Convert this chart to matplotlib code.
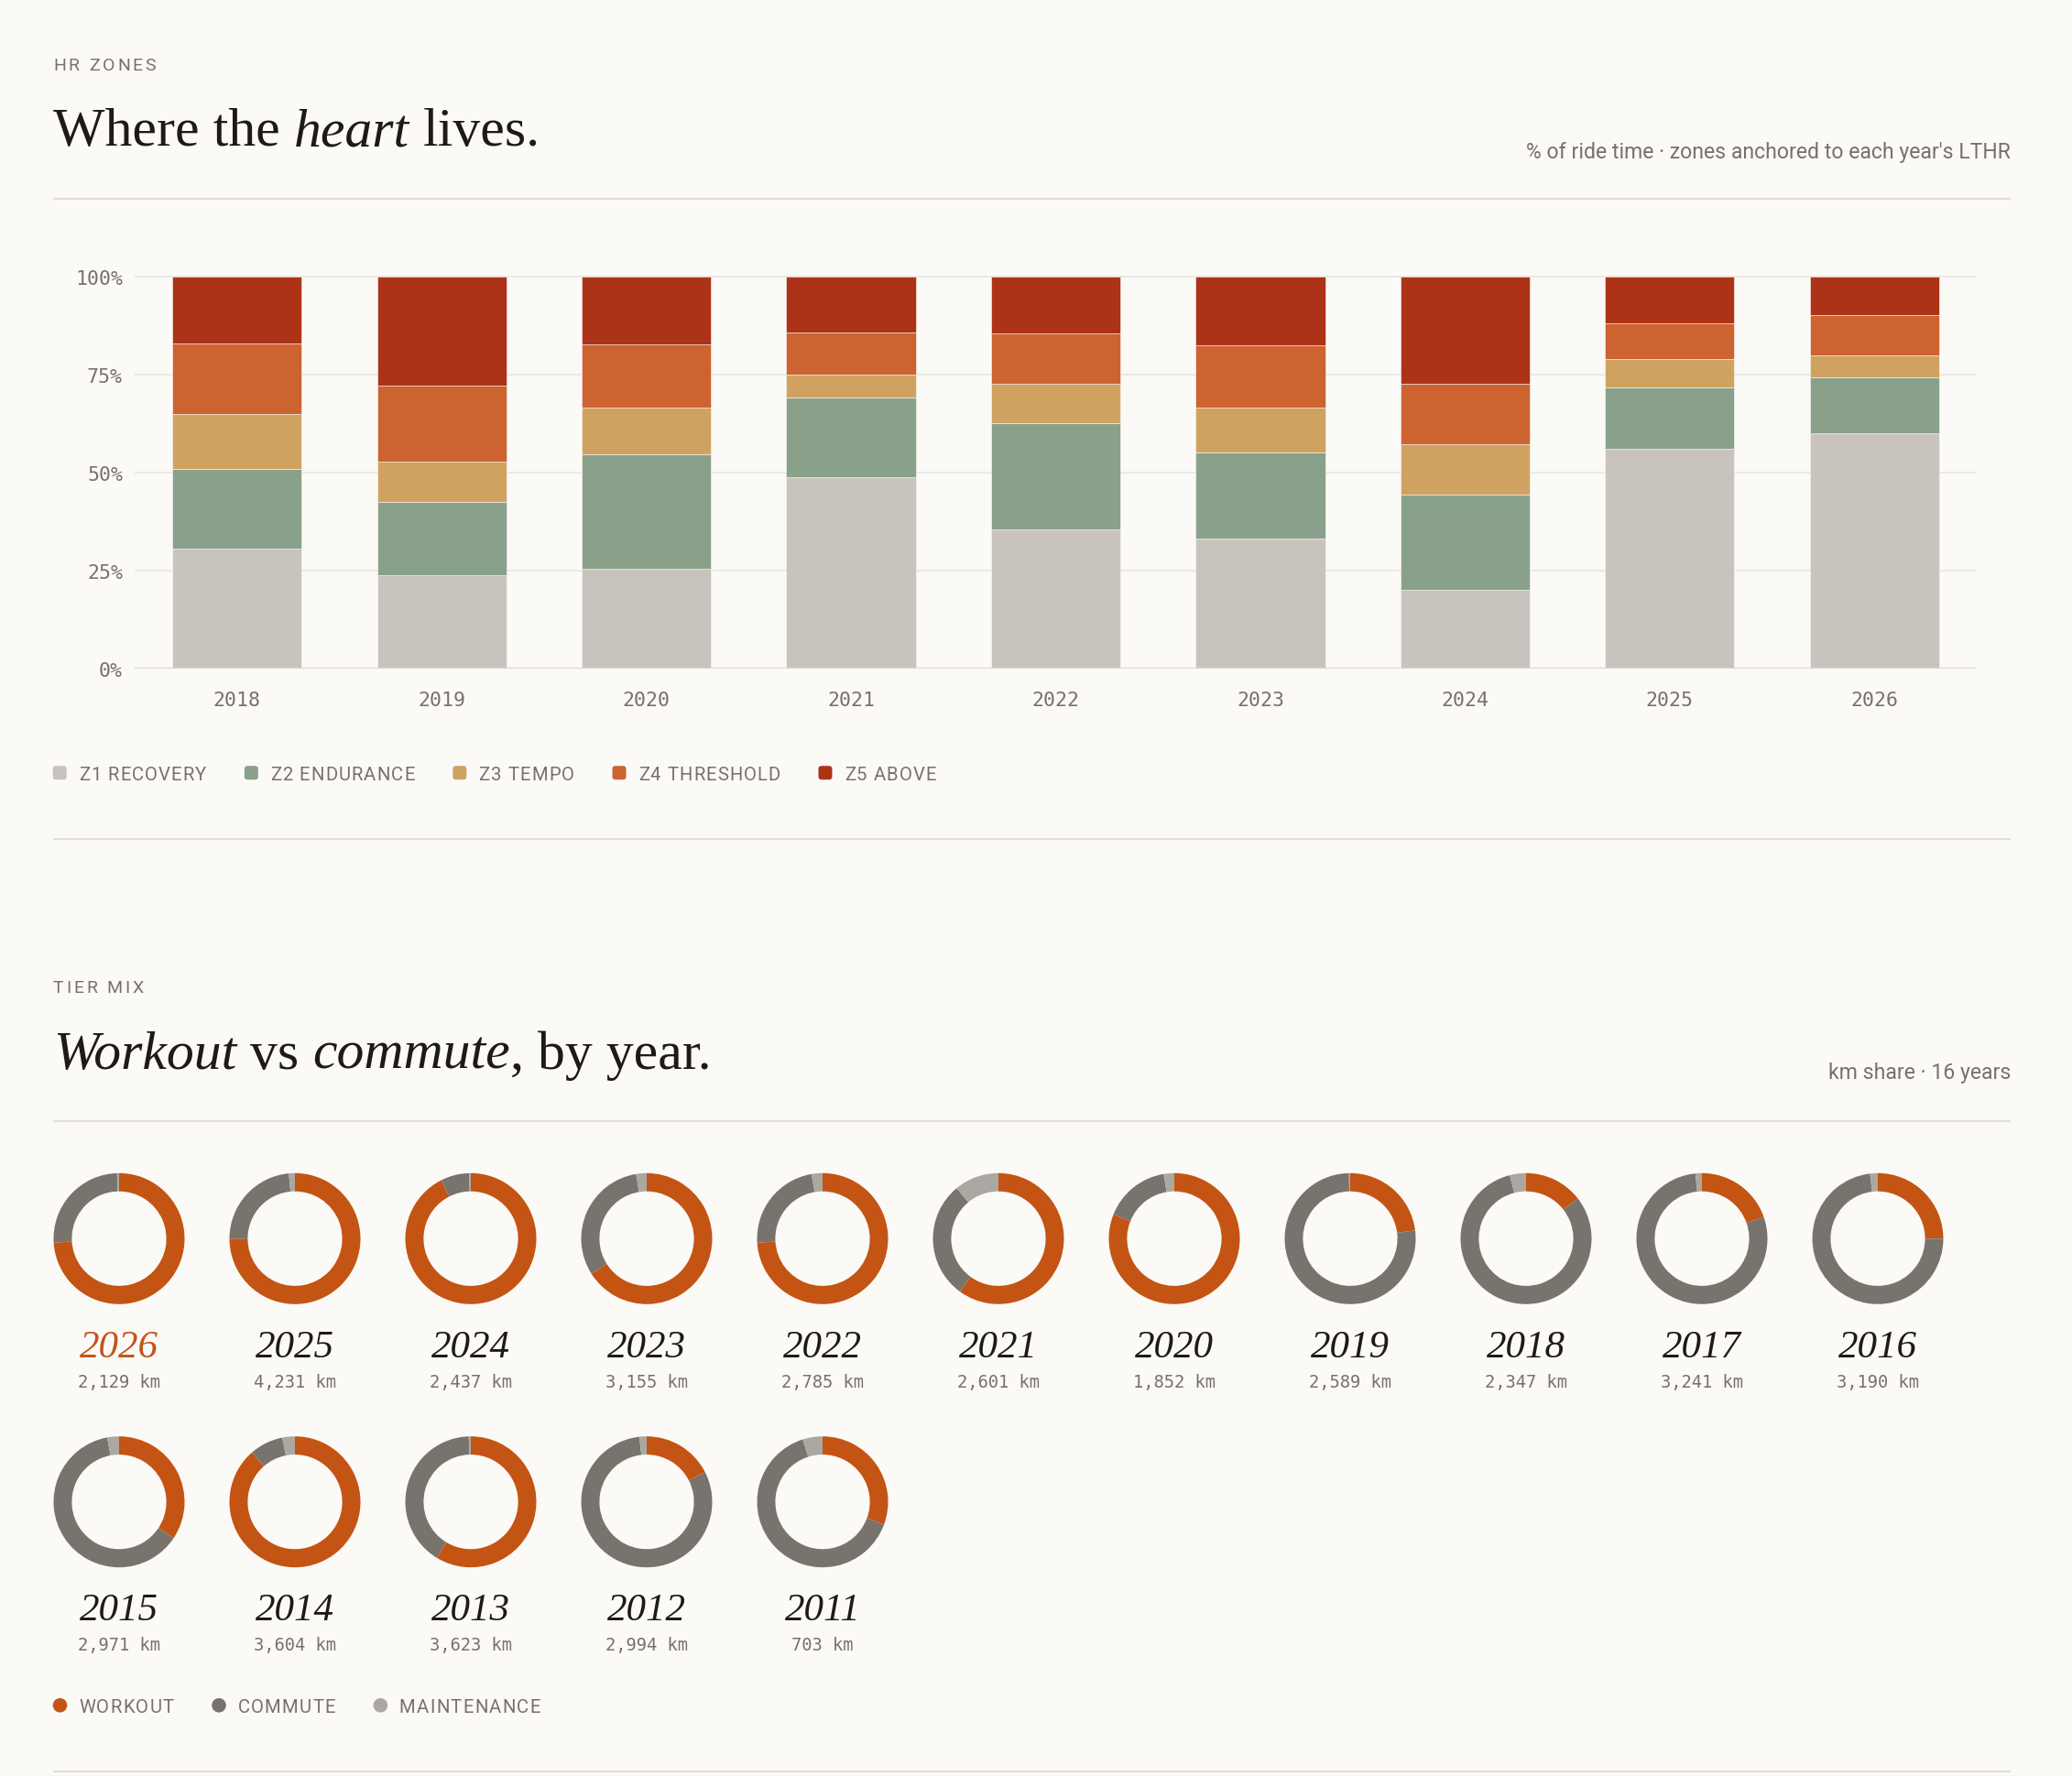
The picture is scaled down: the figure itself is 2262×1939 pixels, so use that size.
import matplotlib
matplotlib.use('Agg')
import matplotlib.pyplot as plt
from matplotlib.patches import FancyBboxPatch, Circle
from matplotlib.font_manager import FontProperties
import numpy as np

# ---------------- data ----------------
hr_years = ['2018', '2019', '2020', '2021', '2022', '2023', '2024', '2025', '2026']
z1_recovery  = [30.6, 23.8, 25.4, 48.9, 35.4, 33.2, 20.0, 56.1, 60.1]
z2_endurance = [20.3, 18.6, 29.2, 20.2, 27.3, 21.9, 24.5, 15.7, 14.3]
z3_tempo     = [14.1, 10.4, 12.0,  5.9, 10.1, 11.5, 12.8,  7.3,  5.6]
z4_threshold = [18.1, 19.4, 16.1, 10.8, 12.7, 15.9, 15.4,  9.0, 10.2]
z5_above     = [16.9, 27.8, 17.3, 14.2, 14.5, 17.5, 27.3, 11.9,  9.8]
zone_labels = ['Z1 RECOVERY', 'Z2 ENDURANCE', 'Z3 TEMPO', 'Z4 THRESHOLD', 'Z5 ABOVE']
zone_colors = ['#C8C3BC', '#89A18B', '#D0A262', '#CC6330', '#AC3318']
y_ticks = [0, 25, 50, 75, 100]
y_tick_labels = ['0%', '25%', '50%', '75%', '100%']

tier_years  = ['2026', '2025', '2024', '2023', '2022', '2021', '2020', '2019',
               '2018', '2017', '2016', '2015', '2014', '2013', '2012', '2011']
workout     = [74.0, 75.0, 92.5, 66.0, 74.0, 60.0, 81.0, 23.0,
               14.5, 19.6, 25.0, 34.3, 88.6, 58.7, 17.5, 30.6]
commute     = [25.5, 23.5,  7.1, 31.4, 23.3, 29.0, 16.4, 76.7,
               81.5, 78.8, 73.1, 62.8,  8.3, 40.8, 80.7, 64.5]
maintenance = [ 0.5,  1.5,  0.4,  2.6,  2.7, 11.0,  2.6,  0.3,
                4.0,  1.6,  1.9,  2.9,  3.1,  0.5,  1.8,  4.9]
tier_km     = [2129, 4231, 2437, 3155, 2785, 2601, 1852, 2589,
               2347, 3241, 3190, 2971, 3604, 3623, 2994, 703]
tier_labels = ['WORKOUT', 'COMMUTE', 'MAINTENANCE']
tier_colors = ['#C45414', '#78736C', '#ABA8A2']

# ---------------- style ----------------
W, H = 2262, 1940
BG = '#FBFAF7'
INK = '#1E1A16'
GRAY = '#78716A'
RULE = '#DDD8D2'
GRID = '#ECE9E4'
ACCENT = '#C4541A'

SERIF = 'Liberation Serif'
SANS = 'Roboto'
MONO = 'DejaVu Sans Mono'

fig = plt.figure(figsize=(W / 100, H / 100), dpi=100, facecolor=BG)
ov = fig.add_axes([0, 0, 1, 1])
ov.set_xlim(0, W)
ov.set_ylim(H, 0)
ov.axis('off')
renderer = fig.canvas.get_renderer()


def fp(family, size, style='normal', weight='normal'):
    return FontProperties(family=family, size=size, style=style, weight=weight)


def ink_w(s, prop):
    t = ov.text(0, 0, s, fontproperties=prop)
    w = t.get_window_extent(renderer).width
    t.remove()
    return w


def tracked(x, y, s, prop, track, color, ha='left'):
    total = ink_w(s, prop) + track * (len(s) - 1)
    if ha == 'right':
        x = x - total
    for i, ch in enumerate(s):
        if ch == ' ':
            continue
        off = 0 if i == 0 else ink_w(s[:i + 1], prop) - ink_w(ch, prop)
        ov.text(x + off + track * i, y, ch, fontproperties=prop, color=color,
                va='baseline', ha='left')
    return x + total


def mixed(x, y, tokens, size, color):
    cur = x
    for tok, style in tokens:
        prop = fp(SERIF, size, style=style)
        if tok == ' ':
            cur += ink_w('H H', prop) - ink_w('HH', prop)
            continue
        ov.text(cur, y, tok, fontproperties=prop, color=color, va='baseline', ha='left')
        cur += ink_w(tok + 'H', prop) - ink_w('H', prop)


def rule(y):
    ov.plot([58, 2195], [y, y], color=RULE, lw=1.2, solid_capstyle='butt')


LABEL_FP = fp(SANS, 14)
SUB_FP = fp(SANS, 16.6)
LEG_FP = fp(SANS, 14.6)

# ---------------- section 1 header ----------------
tracked(58, 76.7, 'HR ZONES', LABEL_FP, 2.8, GRAY)
mixed(58, 159.3, [('Where the', 'normal'), (' ', 'normal'), ('heart', 'italic'),
                  (' ', 'normal'), ('lives.', 'normal')], 43, INK)
ov.text(2195, 172.7, "% of ride time \u00b7 zones anchored to each year's LTHR",
        fontproperties=SUB_FP, color=GRAY, ha='right', va='baseline')
rule(218.3)

# ---------------- stacked bars ----------------
y0_px, y100_px = 730.7, 303.3
px_per = (y0_px - y100_px) / 100.0
ymax = 102.0
ax_top = y0_px - px_per * ymax
ax = fig.add_axes([147 / W, 1 - y0_px / H, (2158 - 147) / W, (y0_px - ax_top) / H])
ax.set_facecolor('none')
xpos = np.arange(len(hr_years))
series = [z1_recovery, z2_endurance, z3_tempo, z4_threshold, z5_above]
bottom = np.zeros(len(hr_years))
for vals, col, lab in zip(series, zone_colors, zone_labels):
    ax.bar(xpos, vals, width=0.632, bottom=bottom, color=col, label=lab,
           edgecolor=BG, linewidth=0.4, zorder=2)
    bottom += np.array(vals)
ax.set_xlim(-0.5, len(hr_years) - 0.5)
ax.set_ylim(0, ymax)
ax.set_yticks(y_ticks)
ax.set_yticklabels(y_tick_labels)
ax.set_xticks(xpos)
ax.set_xticklabels(hr_years)
for lab in ax.get_yticklabels() + ax.get_xticklabels():
    lab.set_fontfamily(MONO)
    lab.set_fontsize(15.5)
    lab.set_color(GRAY)
ax.tick_params(axis='y', length=0, pad=9.4)
ax.tick_params(axis='x', length=0, pad=17.5)
for s in ax.spines.values():
    s.set_visible(False)
ax.yaxis.grid(True, color=GRID, lw=1.5, zorder=0)
ax.set_axisbelow(True)
ax.axhline(0, color='#DCD7D0', lw=1.6, zorder=3)

# legend 1
lx = 57.7
for lab, col in zip(zone_labels, zone_colors):
    ov.add_patch(FancyBboxPatch((lx, 837.2), 15, 15,
                                boxstyle='round,pad=0,rounding_size=3.5',
                                facecolor=col, edgecolor='none'))
    end = tracked(lx + 28.2, 851.7, lab, LEG_FP, 1.1, GRAY)
    lx = end + 41.8
rule(916.7)

# ---------------- section 2 header ----------------
tracked(58, 1084.3, 'TIER MIX', LABEL_FP, 2.8, GRAY)
mixed(58, 1166.7, [('Workout', 'italic'), (' ', 'normal'), ('vs', 'normal'), (' ', 'normal'),
                   ('commute', 'italic'), (',', 'normal'), (' ', 'normal'),
                   ('by year.', 'normal')], 43, INK)
ov.text(2195, 1178, 'km share \u00b7 16 years', fontproperties=SUB_FP, color=GRAY,
        ha='right', va='baseline')
rule(1225)

# ---------------- donuts ----------------
R_OUT = 71.5
RING = (71.5 - 51.6) / 71.5
per_row = 11
YEAR_FP = fp(SERIF, 31, style='italic')
KM_FP = fp(MONO, 13.5)
for i, yr in enumerate(tier_years):
    row, col = divmod(i, per_row)
    cx = 130 + 192 * col
    cy = 1353.3 + 287.4 * row
    dax = fig.add_axes([(cx - R_OUT) / W, 1 - (cy + R_OUT) / H, 2 * R_OUT / W, 2 * R_OUT / H])
    dax.pie([workout[i], commute[i], maintenance[i]], colors=tier_colors,
            startangle=90, counterclock=False, radius=1,
            wedgeprops=dict(width=RING, edgecolor='none', linewidth=0))
    dax.set_xlim(-1, 1)
    dax.set_ylim(-1, 1)
    dax.set_aspect('equal')
    dax.axis('off')
    ov.text(cx, cy + 128.4, yr, fontproperties=YEAR_FP,
            color=ACCENT if i == 0 else INK, ha='center', va='baseline')
    ov.text(cx, cy + 161.7, f'{tier_km[i]:,} km', fontproperties=KM_FP,
            color=GRAY, ha='center', va='baseline')

# legend 2
lx = 57.7
for lab, col in zip(tier_labels, tier_colors):
    ov.add_patch(Circle((lx + 7.8, 1862.8), 7.8, facecolor=col, edgecolor='none'))
    end = tracked(lx + 28.2, 1870, lab, LEG_FP, 1.3, GRAY)
    lx = end + 41.5
rule(1935)

fig.savefig('out.png', dpi=100, facecolor=BG)
